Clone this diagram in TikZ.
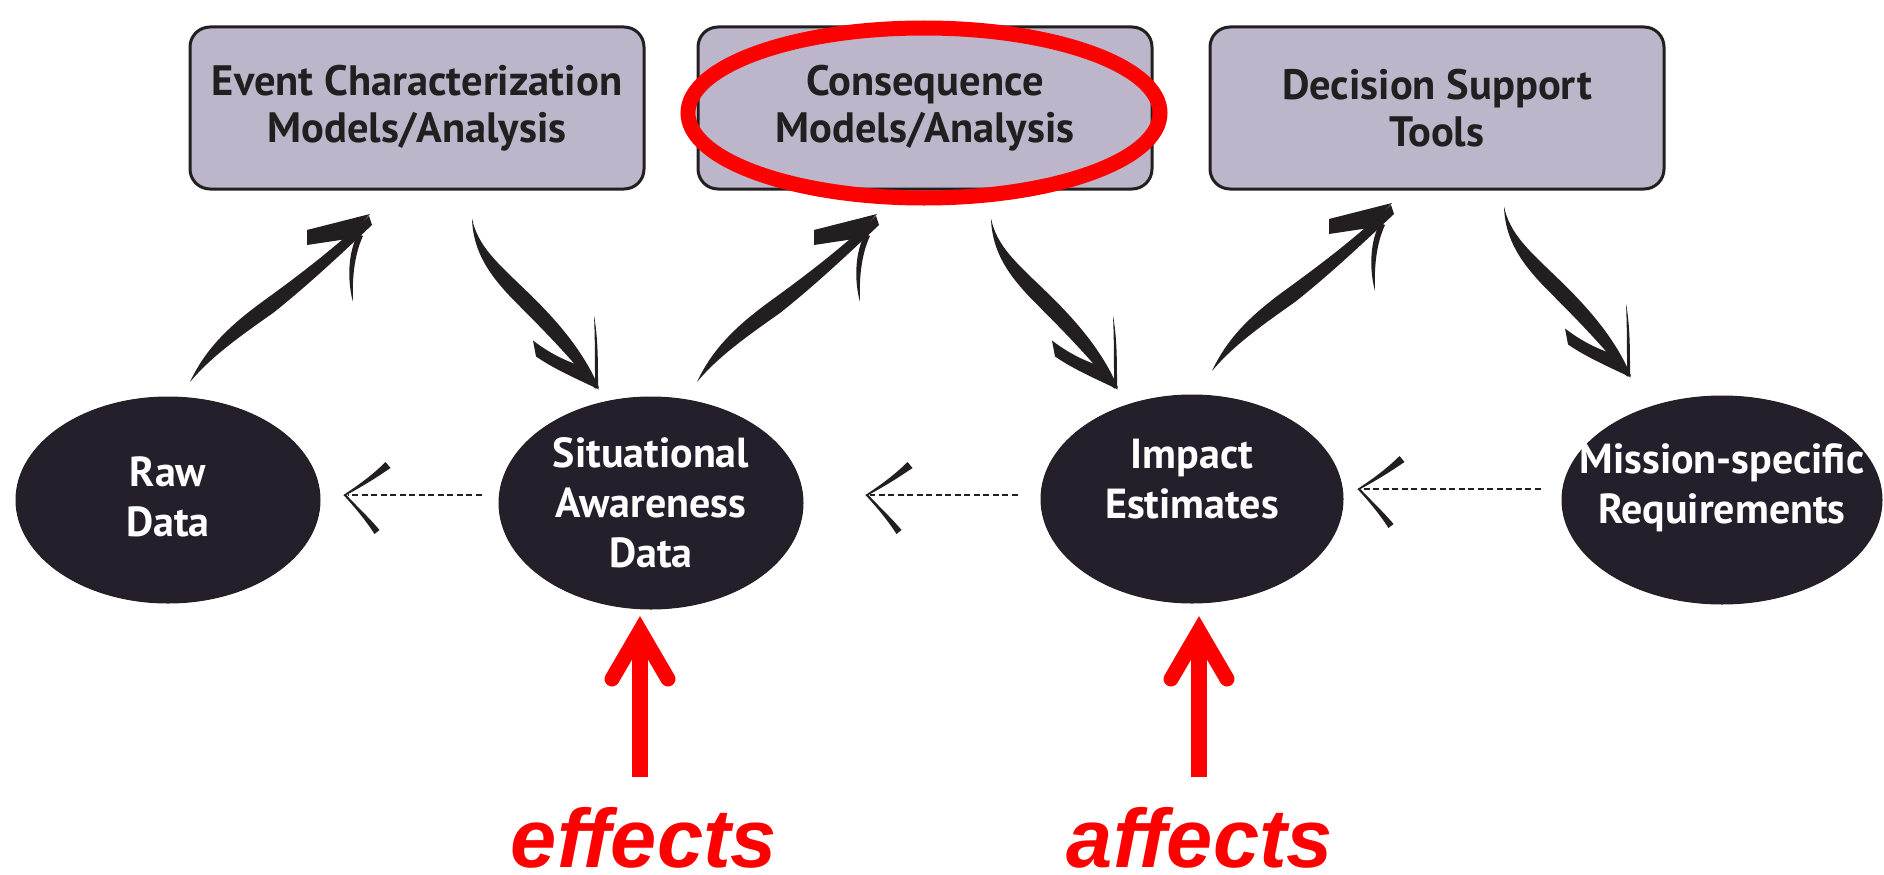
\documentclass[tikz,border=0pt]{standalone}
\usepackage{fontspec}
\setmainfont{PT Sans}
\newfontfamily\notefont{Liberation Sans}
\usetikzlibrary{shapes.geometric,calc}

\definecolor{boxfill}{HTML}{BDB5C9}
\definecolor{ink}{HTML}{231F20}
\definecolor{ovalfill}{HTML}{241F2B}
\definecolor{mark}{HTML}{FF0000}

\tikzset{
  modelbox/.style={draw=ink, line width=3pt, fill=boxfill, rounded corners=20pt,
    minimum width=454pt, minimum height=162pt, inner sep=0pt, text=ink,
    align=center, font=\fontsize{42.5}{47}\selectfont\bfseries},
  dataoval/.style={ellipse, draw=ink, line width=1pt, fill=ovalfill, inner sep=0pt},
  ovaltext/.style={text=white, align=center, inner sep=0pt,
    font=\fontsize{42}{50}\selectfont\bfseries},
  dashlink/.style={draw=ink, line width=1.3pt, dash pattern=on 6pt off 3.5pt},
  markring/.style={draw=mark, line width=15pt},
  markshaft/.style={draw=mark, line width=16pt, line cap=butt},
  markhead/.style={draw=mark, line width=15pt, line cap=round, line join=miter},
  noteword/.style={text=mark, inner sep=0pt,
    font=\notefont\bfseries\itshape\fontsize{83}{83}\selectfont},
  % brush stroke rising from an oval up to a box
  pics/risestroke/.style={code={
    \fill[ink] (0,0) .. controls (14,-30) and (35,-53) .. (72,-80)
      .. controls (108,-106) and (142,-132) .. (179,-166)
      -- (182,-157) .. controls (148,-125) and (117,-96) .. (83,-69)
      .. controls (46,-43) and (20,-24) .. (0,0) -- cycle;
    \fill[ink] (117,-152) -- (180,-168) -- (157,-143) -- (117,-137) -- cycle;
    \fill[ink] (168,-148) .. controls (158,-130) and (157,-102) .. (163,-80)
      .. controls (162,-102) and (164,-127) .. (173,-146) -- cycle;
  }},
  % brush stroke falling from a box down to an oval
  pics/fallstroke/.style={code={
    \fill[ink] (0,0) .. controls (6,28) and (25,44) .. (55,73)
      .. controls (85,102) and (111,132) .. (127,169)
      -- (123,170) .. controls (101,142) and (75,115) .. (45,85)
      .. controls (17,57) and (1,33) .. (0,0) -- cycle;
    \fill[ink] (61,122) .. controls (78,135) and (94,143) .. (114,149)
      -- (127,171) .. controls (104,160) and (83,151) .. (64,138) -- cycle;
    \fill[ink] (126,167) .. controls (126,143) and (126,119) .. (122,97)
      .. controls (123,119) and (123,143) .. (123,167) -- cycle;
  }},
  % open hand-drawn head of a dashed link
  pics/openhead/.style={code={
    \fill[ink] (0,0) .. controls (15,-10) and (29,-20) .. (42,-33)
      -- (47,-27) .. controls (31,-16) and (16,-7) .. (1,1) -- cycle;
    \fill[ink] (0,0) .. controls (11,12) and (22,25) .. (31,39)
      -- (36,35) .. controls (26,23) and (13,11) .. (2,-1) -- cycle;
  }},
}

\begin{document}
\begin{tikzpicture}[x=1pt, y=-1pt]
  \useasboundingbox (0,0) rectangle (1884,875);
  \fill[white] (0,0) rectangle (1884,875);

  % model boxes
  \node[modelbox] (ecm) at (417,108) {Event Characterization\\Models/Analysis};
  \node[modelbox] (cma) at (925,108) {Consequence\\Models/Analysis};
  \node[modelbox] (dst) at (1437,108) {Decision Support\\Tools};

  % data ovals
  \node[dataoval, minimum width=304pt, minimum height=206pt] (raw) at (168,500) {};
  \node[ovaltext] (rawtxt) at ($(raw.center)+(0,-3)$) {Raw\\Data};
  \node[dataoval, minimum width=304pt, minimum height=212pt] (sa) at (651,503) {};
  \node[ovaltext] (satxt) at (sa.center) {Situational\\Awareness\\Data};
  \node[dataoval, minimum width=302pt, minimum height=208pt] (imp) at (1192,499) {};
  \node[ovaltext] (imptxt) at ($(imp.center)+(0,-20)$) {Impact\\Estimates};
  \node[dataoval, minimum width=320pt, minimum height=208pt] (msr) at (1722,500) {};
  \node[ovaltext] (msrtxt) at ($(msr.center)+(0,-12)$) {Mission-specific\\Requirements};

  % brush strokes between ovals and boxes
  \pic at ($(raw.center)+(22,-118)$) {risestroke};
  \pic at ($(ecm.south)+(55,28)$) {fallstroke};
  \pic at ($(sa.center)+(46,-121)$) {risestroke};
  \pic at ($(cma.south)+(66,28)$) {fallstroke};
  \pic at ($(imp.center)+(20,-128)$) {risestroke};
  \pic at ($(dst.south)+(67,16)$) {fallstroke};

  % dashed links back along the row
  \coordinate (h1) at ($(raw.east)+(23,-5)$);
  \draw[dashlink] ($(h1 -| sa.west)+(-17,0)$) -- ($(h1)+(4,0)$);
  \pic at (h1) {openhead};
  \coordinate (h2) at ($(sa.east)+(62,-8)$);
  \draw[dashlink] ($(h2 -| imp.west)+(-23,0)$) -- ($(h2)+(4,0)$);
  \pic at (h2) {openhead};
  \coordinate (h3) at ($(imp.east)+(14,-10)$);
  \draw[dashlink] ($(h3 -| msr.west)+(-21,0)$) -- ($(h3)+(4,0)$);
  \pic at (h3) {openhead};

  % highlight ring round the consequence box
  \draw[markring] ($(cma.center)+(-1,5)$) ellipse [x radius=236pt, y radius=85pt];

  % notes below with red arrows
  \node[noteword, anchor=base] (eff) at (644,867) {effects};
  \node[noteword, anchor=base] (aff) at (1200,867) {affects};
  \coordinate (e1b) at (640,777);
  \coordinate (e1t) at (640,631);
  \coordinate (e2b) at (1199,777);
  \coordinate (e2t) at (1199,631);
  \draw[markshaft] (e1b) -- ($(e1t)+(0,12)$);
  \draw[markhead] ($(e1t)+(-28,48)$) -- (e1t) -- ($(e1t)+(28,48)$);
  \draw[markshaft] (e2b) -- ($(e2t)+(0,12)$);
  \draw[markhead] ($(e2t)+(-28,48)$) -- (e2t) -- ($(e2t)+(28,48)$);
\end{tikzpicture}
\end{document}
